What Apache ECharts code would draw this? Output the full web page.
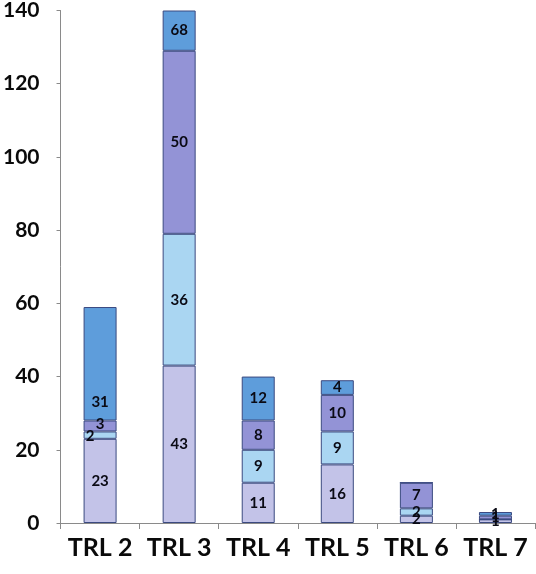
<!DOCTYPE html>
<html><head><meta charset="utf-8">
<script src="https://cdn.jsdelivr.net/npm/echarts@6/dist/echarts.min.js"></script>
<style>html,body{margin:0;padding:0;background:#fff}#c{width:536px;height:574px}</style>
</head><body><div id="c"></div>
<script>
var categories = ['TRL 2','TRL 3','TRL 4','TRL 5','TRL 6','TRL 7'];
var series1 = [23, 43, 11, 16, 2, 1];
var series2 = [2, 36, 9, 9, 2, 0];
var series3 = [3, 50, 8, 10, 7, 1];
var series4 = [31, 68, 12, 4, 0, 1];
var yTicks = [0, 20, 40, 60, 80, 100, 120, 140];
var colors = ['#c3c3e8', '#aad6f2', '#9393d6', '#5e9ddb'];
var yMax = 140;

var all = [series1, series2, series3, series4];
var below = categories.map(function(){return 0;});
var series = all.map(function(arr, si){
  var data = arr.map(function(v, i){
    var vis = Math.max(0, Math.min(v, yMax - below[i]));
    below[i] += v;
    var d = {value: vis, orig: v};
    if (v === 0) d.label = {show: false};
    return d;
  });
  // label nudges like the reference
  if (si === 1) { data[0].label = {offset: [-10, 1]}; }
  if (si === 2) { data[0].label = {offset: [0, -2]}; }
  if (si === 3) { data[0].label = {offset: [0, 38]}; }
  return {
    type: 'bar', stack: 'a', barWidth: 33, data: data,
    itemStyle: {color: colors[si], borderColor: '#3b4a80', borderWidth: 1},
    label: {show: true, position: 'inside', color: '#0a0a14', fontWeight: 'bold', fontSize: 15,
      fontFamily: 'Lato', formatter: function(p){ return p.data.orig; }},
    emphasis: {disabled: true}
  };
});

var chart = echarts.init(document.getElementById('c'), null, {renderer: 'canvas'});
chart.setOption({
  animation: false,
  grid: {left: 60, right: 1, top: 8, bottom: 51},
  xAxis: {type: 'category', data: categories,
    axisLine: {lineStyle: {color: '#8a8a8a'}},
    axisTick: {show: true, length: 6, lineStyle: {color: '#8a8a8a'}},
    axisLabel: {interval: 0, hideOverlap: false, color: '#0a0a0a', fontWeight: 'bold', fontSize: 25, fontFamily: 'Lato', margin: 12}},
  yAxis: {type: 'value', min: yTicks[0], max: yTicks[yTicks.length-1], interval: yTicks[1]-yTicks[0],
    axisLine: {show: true, lineStyle: {color: '#8a8a8a'}},
    axisTick: {show: true, length: 4, lineStyle: {color: '#8a8a8a'}},
    splitLine: {show: false},
    axisLabel: {color: '#0a0a0a', fontWeight: 'bold', fontSize: 21, fontFamily: 'Lato', margin: 21}},
  series: series
});
</script></body></html>
